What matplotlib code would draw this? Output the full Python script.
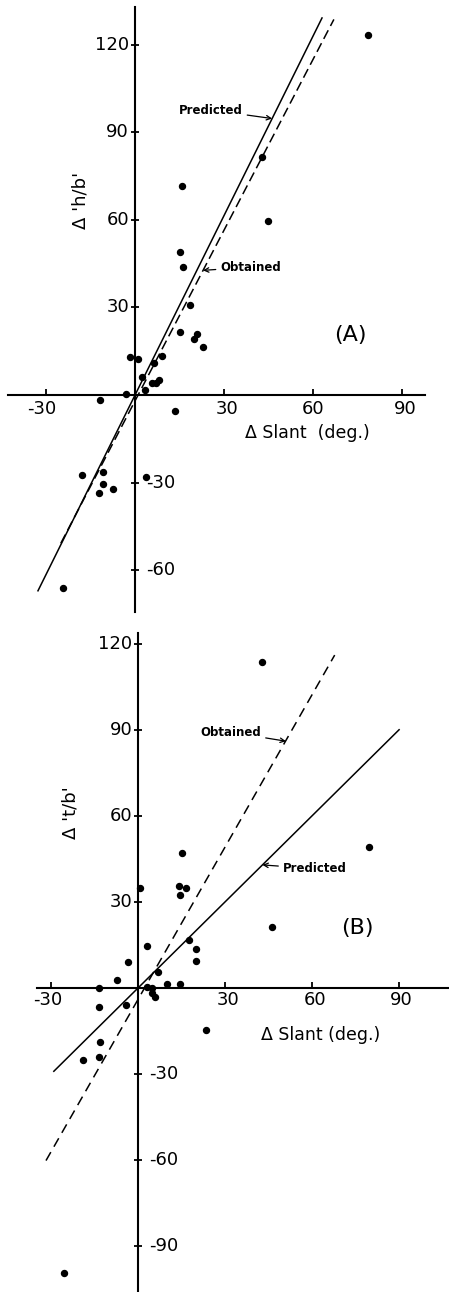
"""Delta 'h/b' and Delta 't/b' against Delta slant, two panels."""
import numpy as np
import matplotlib
matplotlib.use('Agg')
import matplotlib.pyplot as plt

plt.rcParams['lines.scale_dashes'] = False

# panel A: delta slant vs delta 'h/b'
slant_a = [78.4, 42.9, 44.9, 15.7, 15.3, 16.3, 18.5, 15.2, 19.9, 21.0, 23.0,
           -1.7, 1.1, 9.0, 6.4, 2.5, 5.6, 7.0, 8.1, 3.4, -3.0, -11.8, 13.5,
           -18.0, -10.9, -10.9, -12.0, -7.5, 3.6, -24.2]
hb_a = [123.3, 81.6, 59.7, 71.7, 48.9, 43.9, 30.8, 21.7, 19.3, 21.0, 16.3,
        12.9, 12.3, 13.4, 11.1, 6.3, 4.0, 4.2, 5.1, 1.7, 0.3, -1.7, -5.4,
        -27.4, -26.5, -30.3, -33.5, -32.3, -28.2, -66.2]

# panel B: delta slant vs delta 't/b'
slant_b = [42.6, 79.7, 15.3, 0.7, 14.1, 16.4, 14.4, 46.3, 3.2, 17.6, 19.9,
           19.9, -3.3, -7.3, 6.9, 10.1, 14.4, 3.2, 4.9, 4.9, 5.7, -13.4,
           -13.6, -4.2, 23.3, -13.2, -18.8, -13.6, -25.4]
tb_b = [113.5, 49.2, 47.2, 34.7, 35.5, 34.7, 32.4, 21.1, 14.6, 16.7, 13.6,
        9.5, 9.0, 2.8, 5.7, 1.3, 1.3, 0.2, 0.0, -1.8, -3.0, 0.0,
        -6.5, -5.9, -14.6, -18.7, -25.1, -23.9, -99.2]

# fitted lines: (slope, intercept, x start, x end)
pred_a = (2.05, 0.0, -32.7, 63.0)
obt_a = (1.95, -2.0, -25.0, 67.0)
pred_b = (1.0, 0.0, -29.0, 90.0)
obt_b = (1.77, -4.0, -31.7, 67.8)

W, H = 449, 1292
fig = plt.figure(figsize=(W / 100, H / 100), dpi=100)


def setup(ax, yticks):
    for s in ['top', 'right']:
        ax.spines[s].set_visible(False)
    ax.spines['left'].set_position(('data', 0))
    ax.spines['bottom'].set_position(('data', 0))
    for s in ['left', 'bottom']:
        ax.spines[s].set_linewidth(1.5)
    ax.set_xticks([-30, 30, 60, 90])
    ax.set_yticks(yticks)
    ax.set_xticklabels([])
    ax.set_yticklabels([])
    ax.tick_params(axis='x', direction='in', length=4, width=1.3)
    ax.tick_params(axis='y', direction='inout', length=6, width=1.3)
    ax.patch.set_visible(False)
    for v in yticks:
        if v > 0:
            ax.text(-2.0, v, str(v), ha='right', va='center', fontsize=13)
        else:
            ax.text(3.8, v, '-' + str(-v), ha='left', va='center', fontsize=13)


def draw_line(ax, fit, **kw):
    m, c, x0, x1 = fit
    xs = np.array([x0, x1])
    ax.plot(xs, m * xs + c, color='black', lw=1.1, **kw)


arrow = dict(arrowstyle='->', lw=0.9, color='black', shrinkA=1, shrinkB=0,
             mutation_scale=8)

# ---- panel A ----
ax1 = fig.add_axes([8 / W, 1 - 612 / H, 417 / W, 605 / H])
ax1.set_xlim(-42.8, 97.7)
ax1.set_ylim(-74.3, 132.9)
setup(ax1, [120, 90, 60, 30, -30, -60])
for x, lab in zip([-31.4, 30.9, 60.1, 91.0], ['-30', '30', '60', '90']):
    ax1.text(x, -4.9, lab, ha='center', va='center', fontsize=13)
draw_line(ax1, pred_a)
draw_line(ax1, obt_a, ls=(0, (7, 3.5)))
ax1.plot(slant_a, hb_a, 'o', color='black', ms=4.3)
ax1.text(58.1, -13.1, '\u0394 Slant  (deg.)', ha='center', va='center', fontsize=12.5)
ax1.text(-18.5, 66.8, "\u0394 'h/b'", rotation=90, ha='center', va='center', fontsize=13)
ax1.text(72.5, 20.5, '(A)', ha='center', va='center', fontsize=16)
ax1.annotate('Predicted', xy=(46.2, 94.7), xytext=(36.4, 97.6), ha='right', va='center',
             fontsize=8.5, fontweight='bold', arrowprops=arrow)
ax1.annotate('Obtained', xy=(22.9, 42.7), xytext=(28.6, 43.8), ha='left', va='center',
             fontsize=8.5, fontweight='bold', arrowprops=arrow)

# ---- panel B ----
ax2 = fig.add_axes([37 / W, 0, 412 / W, 659 / H])
ax2.set_xlim(-34.8, 107.2)
ax2.set_ylim(-105.9, 123.7)
setup(ax2, [120, 90, 60, 30, -30, -60, -90])
for x, lab in zip([-31.2, 31.0, 60.9, 90.8], ['-30', '30', '60', '90']):
    ax2.text(x, -4.3, lab, ha='center', va='center', fontsize=13)
draw_line(ax2, pred_b)
draw_line(ax2, obt_b, ls=(0, (7, 4.5)))
ax2.plot(slant_b, tb_b, 'o', color='black', ms=4.3)
ax2.text(63.0, -16.3, '\u0394 Slant (deg.)', ha='center', va='center', fontsize=12.5)
ax2.text(-23.3, 61.1, "\u0394 't/b'", rotation=90, ha='center', va='center', fontsize=13)
ax2.text(75.7, 21.0, '(B)', ha='center', va='center', fontsize=16)
ax2.annotate('Obtained', xy=(51.0, 86.0), xytext=(42.6, 89.1), ha='right', va='center',
             fontsize=8.5, fontweight='bold', arrowprops=arrow)
ax2.annotate('Predicted', xy=(42.9, 42.9), xytext=(49.8, 41.6), ha='left', va='center',
             fontsize=8.5, fontweight='bold', arrowprops=arrow)

fig.savefig('out.png', dpi=100)
